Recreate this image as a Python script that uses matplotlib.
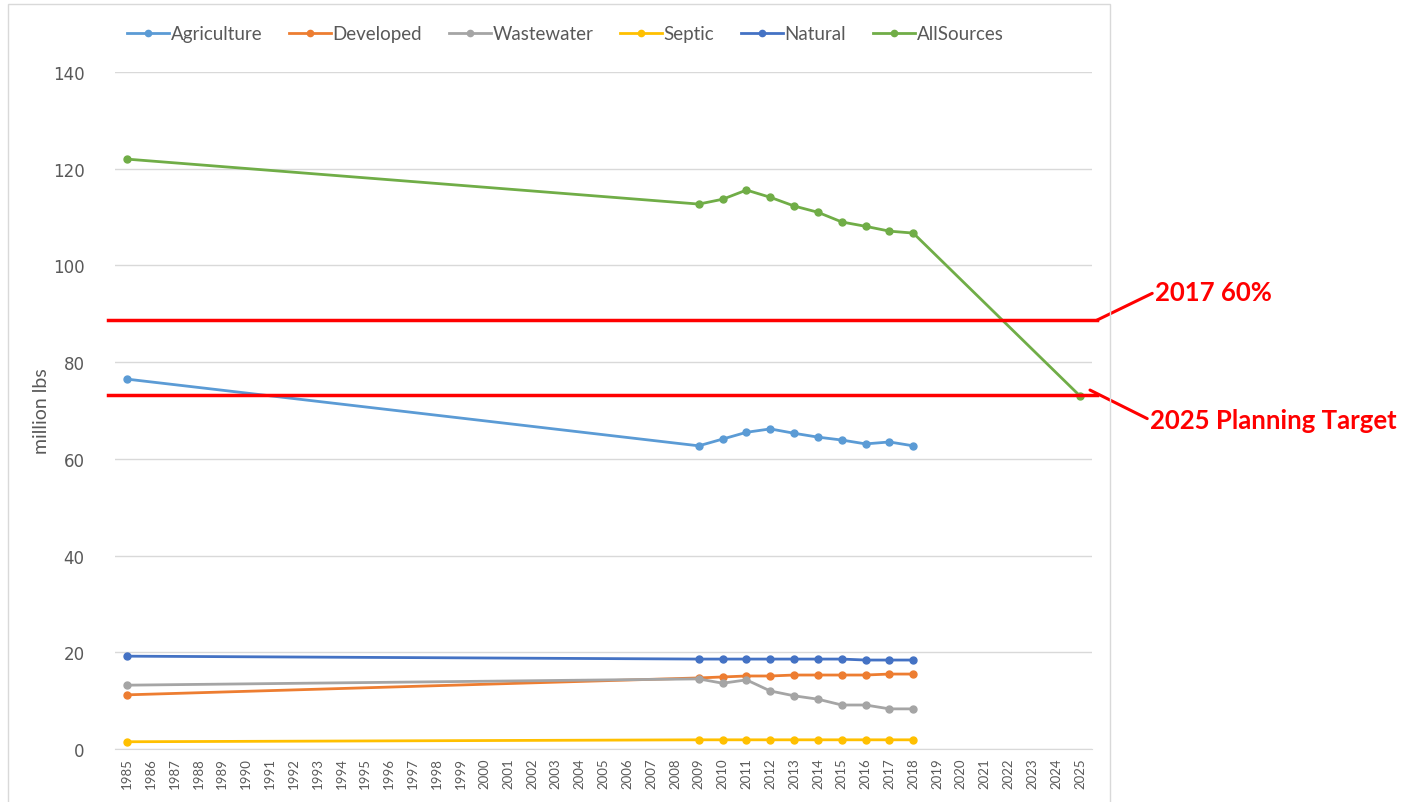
import numpy as np
import matplotlib.pyplot as plt
from matplotlib.patches import Rectangle

years = list(range(1985, 2026))
data_years = [1985, 2009, 2010, 2011, 2012, 2013, 2014, 2015, 2016, 2017, 2018]

agriculture = [76.5, 62.7, 64.1, 65.5, 66.2, 65.3, 64.5, 63.9, 63.1, 63.5, 62.7]
developed = [11.2, 14.7, 14.9, 15.1, 15.1, 15.3, 15.3, 15.3, 15.3, 15.5, 15.5]
wastewater = [13.2, 14.5, 13.6, 14.3, 12.0, 11.0, 10.3, 9.1, 9.1, 8.3, 8.3]
septic = [1.5, 1.9, 1.9, 1.9, 1.9, 1.9, 1.9, 1.9, 1.9, 1.9, 1.9]
natural = [19.2, 18.6, 18.6, 18.6, 18.6, 18.6, 18.6, 18.6, 18.4, 18.4, 18.4]
all_years = data_years + [2025]
all_sources = [122.0, 112.7, 113.7, 115.6, 114.1, 112.3, 111.0, 109.0, 108.1, 107.1, 106.7, 73.0]

target_2017 = 88.7
target_2025 = 73.2

series = [
    ("Agriculture", data_years, agriculture, "#5B9BD5"),
    ("Developed", data_years, developed, "#ED7D31"),
    ("Wastewater", data_years, wastewater, "#A5A5A5"),
    ("Septic", data_years, septic, "#FFC000"),
    ("Natural", data_years, natural, "#4472C4"),
    ("AllSources", all_years, all_sources, "#70AD47"),
]

plt.rcParams['font.family'] = ['Lato', 'DejaVu Sans']

fig = plt.figure(figsize=(14.25, 8.03), dpi=100)
ax = fig.add_axes([0.0807, 0.066, 0.6856, 0.843])

# chart frame
fig.patches.append(Rectangle((8 / 1425, -0.01), (1110 - 8) / 1425, 1 - 5 / 803 + 0.01,
                             transform=fig.transFigure, fill=False, edgecolor='#d9d9d9', lw=1))

for name, xs, ys, col in series:
    idx = [years.index(x) for x in xs]
    ax.plot(idx, ys, color=col, lw=2.0, marker='o', ms=5, label=name, zorder=3)

ax.set_xlim(-0.5, len(years) - 0.5)
ax.set_ylim(0, 140)
ax.set_yticks(range(0, 141, 20))
ax.set_yticklabels([str(v) for v in range(0, 141, 20)], family='DejaVu Sans', fontsize=12)
ax.set_xticks(range(len(years)))
ax.set_xticklabels([str(y) for y in years], rotation=90, fontsize=9.5, color='#595959')
ax.tick_params(axis='y', colors='#595959', length=0, pad=22)
ax.tick_params(axis='x', length=0, pad=6)
ax.grid(axis='y', color='#d9d9d9', lw=1)
ax.set_axisbelow(True)
for s in ['top', 'right', 'left']:
    ax.spines[s].set_visible(False)
ax.spines['bottom'].set_color('#d9d9d9')
ax.set_ylabel("million lbs", fontsize=14, color='#595959', labelpad=2)

ax.legend(loc='lower left', bbox_to_anchor=(0.005, 1.033), ncol=6, frameon=False,
          fontsize=13.5, labelcolor='#595959', handlelength=2.2, handletextpad=0.1,
          columnspacing=1.45, borderaxespad=0, markerscale=0.9)

# red target lines with leaders
trans = ax.get_yaxis_transform()
x0 = (108 - 115) / (1092 - 115)
x1 = (1097 - 115) / (1092 - 115)
for val in [target_2017, target_2025]:
    ax.plot([x0, x1], [val, val], color='#FF0000', lw=2.5, transform=trans, clip_on=False, zorder=4)

y17 = ax.transData.transform((0, target_2017))[1]
y25 = ax.transData.transform((0, target_2025))[1]
H = 803
ax.annotate("2017 60%", xy=(1097, y17), xycoords='figure pixels',
            xytext=(1155, H - 293), textcoords='figure pixels',
            color='#FF0000', fontsize=18.5, fontweight='bold', va='center', ha='left',
            arrowprops=dict(arrowstyle='-', color='#FF0000', lw=2.2, shrinkA=0, shrinkB=0,
                            relpos=(0, 0.5)))
ax.annotate("2025 Planning Target", xy=(1090, y25 + 5), xycoords='figure pixels',
            xytext=(1150, H - 421), textcoords='figure pixels',
            color='#FF0000', fontsize=18.5, fontweight='bold', va='center', ha='left',
            arrowprops=dict(arrowstyle='-', color='#FF0000', lw=2.2, shrinkA=0, shrinkB=0,
                            relpos=(0, 0.5)))

fig.savefig("out.png", dpi=100)
